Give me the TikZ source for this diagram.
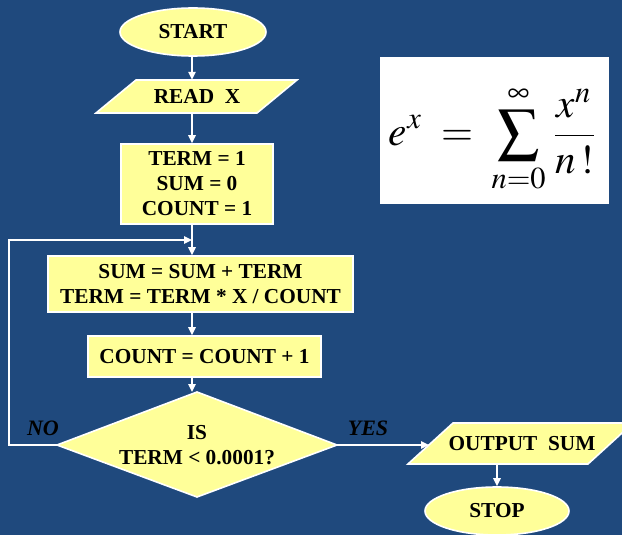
\documentclass[tikz,border=0pt]{standalone}
\usepackage{mathptmx}
\usepackage{graphicx}
\usepackage{fontspec}
\setmainfont{Liberation Serif}
\usetikzlibrary{arrows.meta,shapes.geometric}
\definecolor{bgblue}{RGB}{31,73,125}
\definecolor{yel}{RGB}{255,255,153}
\tikzset{
  shp/.style={draw=white, fill=yel, line width=1.6pt},
  txt/.style={font=\fontsize{21.3}{25}\selectfont\bfseries, text=black, align=center, inner sep=0pt},
  lbl/.style={font=\fontsize{22}{25}\selectfont\bfseries\itshape, text=black, inner sep=0pt},
  arr/.style={draw=white, line width=1.5pt, -{Triangle[length=8pt,width=7.5pt]}},
}
\begin{document}
\begin{tikzpicture}[x=1pt,y=-1pt]
\fill[bgblue] (0,0) rectangle (622,535);
\useasboundingbox (0,0) rectangle (622,535);
\clip (0,0) rectangle (622,535);
% column of arrows
\coordinate (cx) at (192,0);
% START
\node[ellipse, shp, txt, minimum width=146pt, minimum height=48pt] (start) at (193,32) {START};
% READ X
\filldraw[shp] (96,113) -- (136,80) -- (297,80) -- (257,113) -- cycle;
\node[txt, minimum height=33pt, minimum width=160pt] (read) at (197,96.5) {READ\ \ X};
% init box
\node[rectangle, shp, txt, minimum width=152pt, minimum height=80pt] (init) at (197,184) {TERM = 1\\SUM = 0\\COUNT = 1};
% sum box
\node[rectangle, shp, txt, minimum width=305pt, minimum height=56pt] (sum) at (200.5,284) {SUM = SUM + TERM\\TERM = TERM * X / COUNT};
% count box
\node[rectangle, shp, txt, minimum width=233pt, minimum height=41pt] (count) at (204.5,356.5) {COUNT = COUNT + 1};
% diamond
\coordinate (dN) at (197,392);
\coordinate (dS) at (197,497);
\coordinate (dW) at (57,445);
\coordinate (dE) at (337,445);
\filldraw[shp] (dN) -- (dE) -- (dS) -- (dW) -- cycle;
\node[txt] (dec) at (197,445) {IS\\TERM < 0.0001?};
% OUTPUT
\filldraw[shp] (408,464) -- (453,423) -- (633,423) -- (588,464) -- cycle;
\node[txt, minimum height=41pt, minimum width=170pt] (out) at (522,443.5) {OUTPUT\ \ SUM};
\coordinate (oW) at (429,445);
% STOP
\node[ellipse, shp, txt, minimum width=144pt, minimum height=48pt] (stop) at (497,511) {STOP};
% formula
\node[fill=white, minimum width=229pt, minimum height=147pt, inner sep=0pt] (fbox) at (494.5,130.5) {};
\node[inner sep=0pt] (fml) at (494,139) {\resizebox{210pt}{!}{$\displaystyle e^{x}\;=\;\sum_{n=0}^{\infty}\frac{x^{n}}{n\,!}$}};
% labels
\node[lbl] (no) at (43,428) {NO};
\node[lbl] (yes) at (368,428) {YES};
% connectors
\draw[arr] (start.south -| cx) -- (read.north -| cx);
\draw[arr] (read.south -| cx) -- (init.north -| cx);
\draw[arr] (init.south -| cx) -- (sum.north -| cx);
\draw[arr] (sum.south -| cx) -- (count.north -| cx);
\draw[arr] (count.south -| cx) -- (dN -| cx);
\coordinate (lb) at (9,447);
\coordinate (lt) at (9,240);
\draw[arr] (dW) -- (dW -| lb) -- (lt) -- (lt -| cx);
\coordinate (ox) at (497,0);
\draw[arr] (dE) -- (oW);
\draw[arr] (out.south -| ox) -- (stop.north -| ox);
\end{tikzpicture}
\end{document}
